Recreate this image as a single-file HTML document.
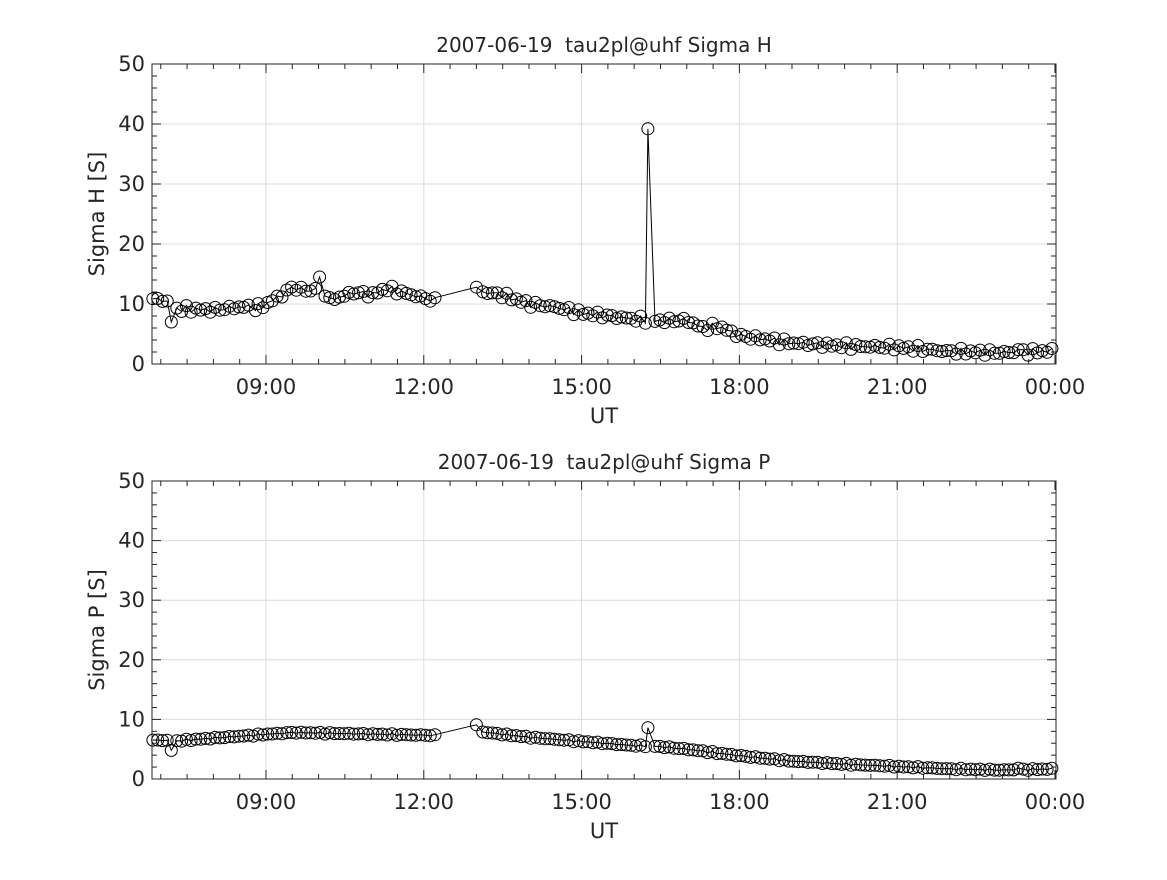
<!DOCTYPE html>
<html><head><meta charset="utf-8"><style>
html,body{margin:0;padding:0;background:#fff;}
svg text{font-family:"DejaVu Sans","Liberation Sans",sans-serif;fill:#262626;}
</style></head><body>
<svg id="s" width="1167" height="875" xmlns="http://www.w3.org/2000/svg"></svg>
<script>
const s=document.getElementById('s');
let out='';
const X0=152,X1=1056;
const hx=h=>152+(h-6.833)*52.6;
function interp(w,h){for(let i=0;i<w.length-1;i++){if(h>=w[i][0]&&h<=w[i+1][0]){const t=(h-w[i][0])/(w[i+1][0]-w[i][0]);return w[i][1]+t*(w[i+1][1]-w[i][1]);}}return w[w.length-1][1];}
const H=[[6.85,10.8],[7.1,10.6],[7.3,9.2],[8,9],[8.5,9.5],[8.9,9.5],[9.3,11.5],[9.5,12.8],[9.9,12],[10.0,14],[10.2,10.6],[10.7,12],[11,11.5],[11.3,12.6],[12,11],[12.25,10.5],[13,12.2],[13.5,11.5],[14,10],[14.5,9.5],[15,8.5],[16,7.5],[16.4,7.2],[17,7.3],[17.3,6],[17.6,6.3],[18,4.7],[19,3.5],[20,3],[21,2.8],[22,2.1],[23,1.9],[24,2.2]];
const P=[[6.85,6.5],[7.1,6.5],[7.3,6.4],[9,7.5],[9.5,7.8],[12.25,7.3],[13,8],[14,7],[15,6.3],[16,5.6],[16.4,5.5],[17,5],[18,3.9],[19,3],[20,2.5],[21,2.1],[22,1.7],[23,1.5],[24,1.7]];
function series(w,noise,special){
 const pts=[];
 for(let h=6.85;h<=24.001;h+=1/11){
  if(h>12.27&&h<12.98)continue;
  let v=interp(w,h)+noise*(Math.sin(h*37.1)*0.6+Math.sin(h*91.7)*0.4);
  pts.push([h,v]);
 }
 special.forEach(sp=>{let best=0,bd=1e9;pts.forEach((p,i)=>{const d=Math.abs(p[0]-sp[0]);if(d<bd){bd=d;best=i;}});pts[best][0]=sp[0];pts[best][1]=sp[1];});
 return pts;
}
const sh=series(H,0.6,[[7.2,7],[16.26,39.2],[10.02,14.5],[8.8,8.9],[13.0,12.8],[23.3,2.4]]);
const sp=series(P,0.15,[[7.2,4.8],[16.26,8.6],[13.0,9.1],[23.3,1.8]]);
function panel(top,bot,pts,title,ylabel){
 const yv=v=>bot-v*(bot-top)/50;
 for(let v=10;v<=40;v+=10)out+=`<line x1="${X0}" x2="${X1}" y1="${yv(v)}" y2="${yv(v)}" stroke="#dcdcdc"/>`;
 for(let h=9;h<=21;h+=3)out+=`<line x1="${hx(h)}" x2="${hx(h)}" y1="${top}" y2="${bot}" stroke="#dcdcdc"/>`;
 for(let h=7;h<=24;h+=0.5){const x=hx(h);const L=(h%3==0)?9:5;
  out+=`<line x1="${x}" x2="${x}" y1="${bot}" y2="${bot-L}" stroke="#262626"/><line x1="${x}" x2="${x}" y1="${top}" y2="${top+L}" stroke="#262626"/>`;}
 for(let v=0;v<=50;v+=2){const y=yv(v);const L=(v%10==0)?9:5;
  out+=`<line x1="${X0}" x2="${X0+L}" y1="${y}" y2="${y}" stroke="#262626"/><line x1="${X1}" x2="${X1-L}" y1="${y}" y2="${y}" stroke="#262626"/>`;}
 out+=`<rect x="${X0}" y="${top}" width="${X1-X0}" height="${bot-top}" fill="none" stroke="#262626"/>`;
 for(let v=0;v<=50;v+=10)out+=`<text x="${X0-7}" y="${yv(v)+7}" font-size="21" text-anchor="end">${v}</text>`;
 const labs=['09:00','12:00','15:00','18:00','21:00','00:00'];
 labs.forEach((l,i)=>out+=`<text x="${hx(9+3*i)}" y="${bot+30}" font-size="21" text-anchor="middle">${l}</text>`);
 out+=`<text x="604" y="${bot+59}" font-size="21" text-anchor="middle">UT</text>`;
 out+=`<text x="604" y="${top-12}" font-size="20" text-anchor="middle">${title}</text>`;
 out+=`<text transform="translate(104,${(top+bot)/2}) rotate(-90)" font-size="21" text-anchor="middle">${ylabel}</text>`;
 let d='';pts.forEach((p,i)=>{d+=(i==0?'M':'L')+hx(p[0]).toFixed(1)+' '+yv(p[1]).toFixed(1)+' ';});
 out+=`<path d="${d}" fill="none" stroke="#000" stroke-width="1"/>`;
 pts.forEach(p=>out+=`<circle cx="${hx(p[0]).toFixed(1)}" cy="${yv(p[1]).toFixed(1)}" r="6" fill="none" stroke="#000" stroke-width="1"/>`);
}
panel(64,364,sh,'2007-06-19&#160; tau2pl@uhf Sigma H','Sigma H [S]');
panel(481,779,sp,'2007-06-19&#160; tau2pl@uhf Sigma P','Sigma P [S]');
s.innerHTML=out;
</script>
</body></html>
